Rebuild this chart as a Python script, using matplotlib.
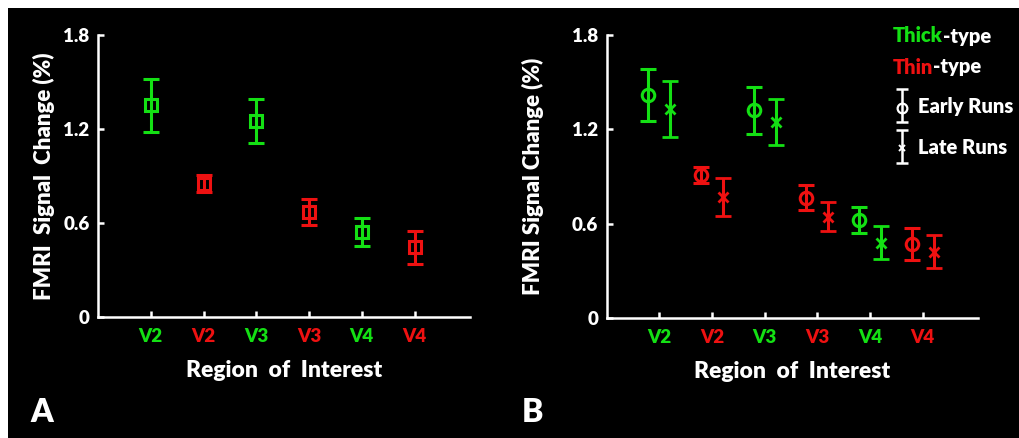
import numpy as np
import matplotlib.pyplot as plt
from matplotlib.patches import Rectangle

plt.rcParams['font.family'] = ['Lato', 'DejaVu Sans']
W = 'heavy'
plt.rcParams['font.weight'] = W

green = '#14e014'
red = '#ee1111'

regions = ['V2', 'V2', 'V3', 'V3', 'V4', 'V4']
types = ['thick', 'thin', 'thick', 'thin', 'thick', 'thin']

# panel A: all runs
mean_a = [1.35, 0.85, 1.25, 0.67, 0.54, 0.445]
err_a = [0.17, 0.055, 0.14, 0.085, 0.09, 0.105]

# panel B: early vs late runs
mean_early = [1.42, 0.91, 1.32, 0.765, 0.625, 0.47]
err_early = [0.165, 0.05, 0.15, 0.08, 0.083, 0.10]
mean_late = [1.33, 0.77, 1.245, 0.645, 0.48, 0.42]
err_late = [0.18, 0.12, 0.145, 0.09, 0.105, 0.105]

colors = [green if t == 'thick' else red for t in types]
x = np.arange(1, len(regions) + 1)

fig = plt.figure(figsize=(10.2, 4.38), dpi=100, facecolor='white')
fig.patches.append(Rectangle((8 / 1020, 0), 1, 430 / 438, transform=fig.transFigure,
                             facecolor='black', edgecolor='none', zorder=-10))

ax1 = fig.add_axes([0.0961, 0.2763, 0.3647, 0.6438])
ax2 = fig.add_axes([0.5948, 0.274, 0.364, 0.646])


def style(ax, ylabel, ylabpad):
    ax.set_facecolor('black')
    for s in ['top', 'right']:
        ax.spines[s].set_visible(False)
    for s in ['left', 'bottom']:
        ax.spines[s].set_color('white')
        ax.spines[s].set_linewidth(1.8)
    ax.set_xlim(0, 7.05)
    ax.set_ylim(0, 1.8)
    ax.set_yticks([0, 0.6, 1.2, 1.8])
    ax.set_yticklabels(['0', '0.6', '1.2', '1.8'])
    ax.set_xticks(x)
    ax.set_xticklabels(regions)
    for lab, c in zip(ax.get_xticklabels(), colors):
        lab.set_color(c)
    ax.tick_params(axis='both', direction='in', length=4, width=1.8, color='white',
                   labelsize=13.5)
    ax.tick_params(axis='y', labelcolor='white', pad=6)
    ax.tick_params(axis='x', pad=8)
    ax.set_ylabel(ylabel, color='white', fontsize=16, fontweight=W, labelpad=ylabpad)
    ax.set_xlabel('Region  of  Interest', color='white', fontsize=16.5,
                  fontweight=W, labelpad=11)


style(ax1, 'FMRI  Signal  Change (%)', 6)
style(ax2, 'FMRI Signal Change (%)', 20)

for xi, m, e, c in zip(x, mean_a, err_a, colors):
    ax1.errorbar(xi, m, yerr=e, fmt='s', color=c, mfc='none', mec=c, ms=8.5, mew=2.2,
                 elinewidth=2.2, capsize=5.5, capthick=2.2)

off = 0.21
for xi, m, e, c in zip(x, mean_early, err_early, colors):
    ax2.errorbar(xi - off, m, yerr=e, fmt='o', color=c, mfc='none', mec=c, ms=9, mew=2.2,
                 elinewidth=2.2, capsize=5.5, capthick=2.2)
for xi, m, e, c in zip(x, mean_late, err_late, colors):
    ax2.errorbar(xi + off, m, yerr=e, fmt='x', color=c, ms=7, mew=2,
                 elinewidth=2.2, capsize=5.5, capthick=2.2)

# legend text
t1 = fig.text(893 / 1020, 1 - 36 / 438, 'Thick', color=green, fontsize=14.5,
              fontweight=W, va='center', ha='left')
fig.add_artist(plt.Annotation('-type', xy=(1, 0), xycoords=t1, color='white',
                              fontsize=14.5, fontweight=W, va='bottom', ha='left'))
t2 = fig.text(893 / 1020, 1 - 67 / 438, 'Thin', color=red, fontsize=14.5,
              fontweight=W, va='center', ha='left')
fig.add_artist(plt.Annotation('-type', xy=(1, 0), xycoords=t2, color='white',
                              fontsize=14.5, fontweight=W, va='bottom', ha='left'))

# legend keys in a small hidden axes (y: 1 = early, 0 = late)
lax = fig.add_axes([892 / 1020, 1 - 168 / 438, 20 / 1020, 84 / 438])
lax.set_xlim(-1, 1)
lax.set_ylim(-0.52, 1.53)
lax.axis('off')
lax.errorbar(0, 1, yerr=0.4, fmt='none', ecolor='white', elinewidth=1.8, capsize=4.5,
             capthick=1.8)
lax.plot(0, 0.94, 'o', mfc='none', mec='white', ms=7, mew=1.6)
lax.errorbar(0, 0, yerr=0.4, fmt='none', ecolor='white', elinewidth=1.8, capsize=4.5,
             capthick=1.8)
lax.plot(0, -0.03, 'x', color='white', ms=5, mew=1.4)
fig.text(918 / 1020, 1 - 107 / 438, 'Early Runs', color='white', fontsize=14.5,
         fontweight=W, va='center', ha='left')
fig.text(918 / 1020, 1 - 147 / 438, 'Late Runs', color='white', fontsize=14.5,
         fontweight=W, va='center', ha='left')

fig.text(30 / 1020, 1 - 412 / 438, 'A', color='white', fontsize=23, fontweight=W,
         va='center', ha='left')
fig.text(522 / 1020, 1 - 412 / 438, 'B', color='white', fontsize=23, fontweight=W,
         va='center', ha='left')

fig.savefig('out.png', dpi=100, facecolor=fig.get_facecolor())
